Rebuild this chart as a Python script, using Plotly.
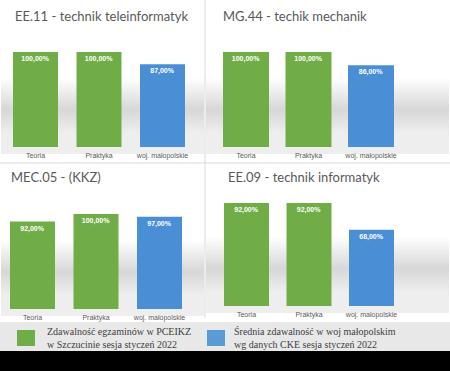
import plotly.graph_objects as go

W, H = 450, 371

categories = ["Teoria", "Praktyka", "woj. małopolskie"]
titles = ["EE.11 - technik teleinformatyk", "MG.44 - techik mechanik",
          "MEC.05 - (KKZ)", "EE.09 - technik informatyk"]
ee11 = [100, 100, 87]
mg44 = [100, 100, 86]
mec05 = [92, 100, 97]
ee09 = [92, 92, 68]
series = [ee11, mg44, mec05, ee09]
legend_texts = ["Zdawalność egzaminów w PCEIKZ<br>w Szczucinie sesja styczeń 2022",
                "Średnia zdawalność w woj małopolskim<br>wg danych CKE sesja styczeń 2022"]

GREEN = "#70ad47"
BLUE = "#4a8fd5"
colors = [GREEN, GREEN, BLUE]

# panel geometry in pixels: (x0, x1, top, baseline, px per %, center of first bar, spacing, bar px)
panels = [
    (0, 205, 0, 147, 0.95, 35.5, 63.5, 45),
    (205, 450, 0, 147, 0.95, 246, 62.5, 46),
    (0, 205, 163, 309, 0.95, 32.5, 63.5, 45),
    (205, 450, 163, 306, 1.12, 246.5, 62.5, 45),
]
title_pos = [(13, 16), (221, 16), (9, 177), (226, 177)]

fig = go.Figure()
shapes = []
annotations = []

def px(x):
    return x / W

def py(y):
    return 1 - y / H

def gray(v):
    v = int(max(0, min(255, v)))
    return f"rgb({v},{v},{v})"

for i, (x0, x1, top, base, k, c0, sp, bw) in enumerate(panels):
    ax = "" if i == 0 else str(i + 1)
    # background floor gradient (style only)
    step = 2
    y = base - 75
    peak = base - 38
    while y < base + 6:
        d = y - peak
        if d < 0:
            v = 255 - 40 * max(0.0, 1 - abs(d) / 32)
        else:
            v = max(215 + 25 * min(1.0, d / 25), 215)
            v = min(v, 238)
        shapes.append(dict(type="rect", xref="paper", yref="paper",
                           x0=px(x0 + 1), x1=px(x1 - 1), y0=py(y + step), y1=py(y),
                           fillcolor=gray(v), line=dict(width=0), layer="below"))
        y += step

    fig.add_trace(go.Bar(
        x=categories, y=series[i], marker=dict(color=colors, line=dict(width=0)),
        texttemplate="<b>%{y:.2f}%</b>", textposition="inside", insidetextanchor="end",
        textangle=0, constraintext="none",
        insidetextfont=dict(color="white", size=7, family="Liberation Sans"),
        width=bw / sp, xaxis="x" + ax, yaxis="y" + ax, showlegend=False,
        hoverinfo="skip"))
    left = -(c0 - x0) / sp
    right = 2 + (x1 - (c0 + 2 * sp)) / sp
    fig.layout["xaxis" + ax] = dict(
        domain=[px(x0), px(x1)], range=[left, right], anchor="y" + ax,
        showgrid=False, zeroline=False, showline=False, ticks="",
        ticklabelstandoff=3, automargin=False,
        tickfont=dict(size=7, color="#595959", family="Liberation Sans"),
        fixedrange=True)
    fig.layout["yaxis" + ax] = dict(
        domain=[py(base), py(top)], range=[0, (base - top) / k], anchor="x" + ax,
        visible=False, fixedrange=True)
    tx, ty = title_pos[i]
    annotations.append(dict(text=titles[i], xref="paper", yref="paper",
                            x=px(tx), y=py(ty), xanchor="left", yanchor="middle",
                            showarrow=False,
                            font=dict(size=13, color="#595959", family="Lato")))

# separators
shapes.append(dict(type="line", xref="paper", yref="paper", x0=px(205), x1=px(205),
                   y0=py(318), y1=py(0), line=dict(color="#d9d9d9", width=1)))
shapes.append(dict(type="line", xref="paper", yref="paper", x0=0, x1=1,
                   y0=py(163), y1=py(163), line=dict(color="#d9d9d9", width=1)))

# legend band
shapes.append(dict(type="rect", xref="paper", yref="paper", x0=0, x1=1,
                   y0=py(351), y1=py(322), fillcolor="#e8e8e8", line=dict(width=0)))
shapes.append(dict(type="rect", xref="paper", yref="paper", x0=0, x1=1,
                   y0=0, y1=py(351), fillcolor="#000000", line=dict(width=0)))
for (sx, tx, col, txt) in [(17, 45, GREEN, legend_texts[0]), (207, 232, "#5b9bd5", legend_texts[1])]:
    shapes.append(dict(type="rect", xref="paper", yref="paper", x0=px(sx), x1=px(sx + 18),
                       y0=py(346), y1=py(330), fillcolor=col, line=dict(width=0)))
    annotations.append(dict(text=txt, xref="paper", yref="paper", align="left",
                            x=px(tx), y=py(337.5), xanchor="left", yanchor="middle",
                            showarrow=False,
                            font=dict(size=10, color="#404040", family="Liberation Serif")))

fig.update_layout(
    width=W, height=H, margin=dict(l=0, r=0, t=0, b=0),
    paper_bgcolor="white", plot_bgcolor="rgba(0,0,0,0)",
    separators=", ", bargap=0.29, shapes=shapes, annotations=annotations,
    showlegend=False)

fig.write_html("out.html", config={"displayModeBar": False},
               post_script="document.body.style.margin='0';")
